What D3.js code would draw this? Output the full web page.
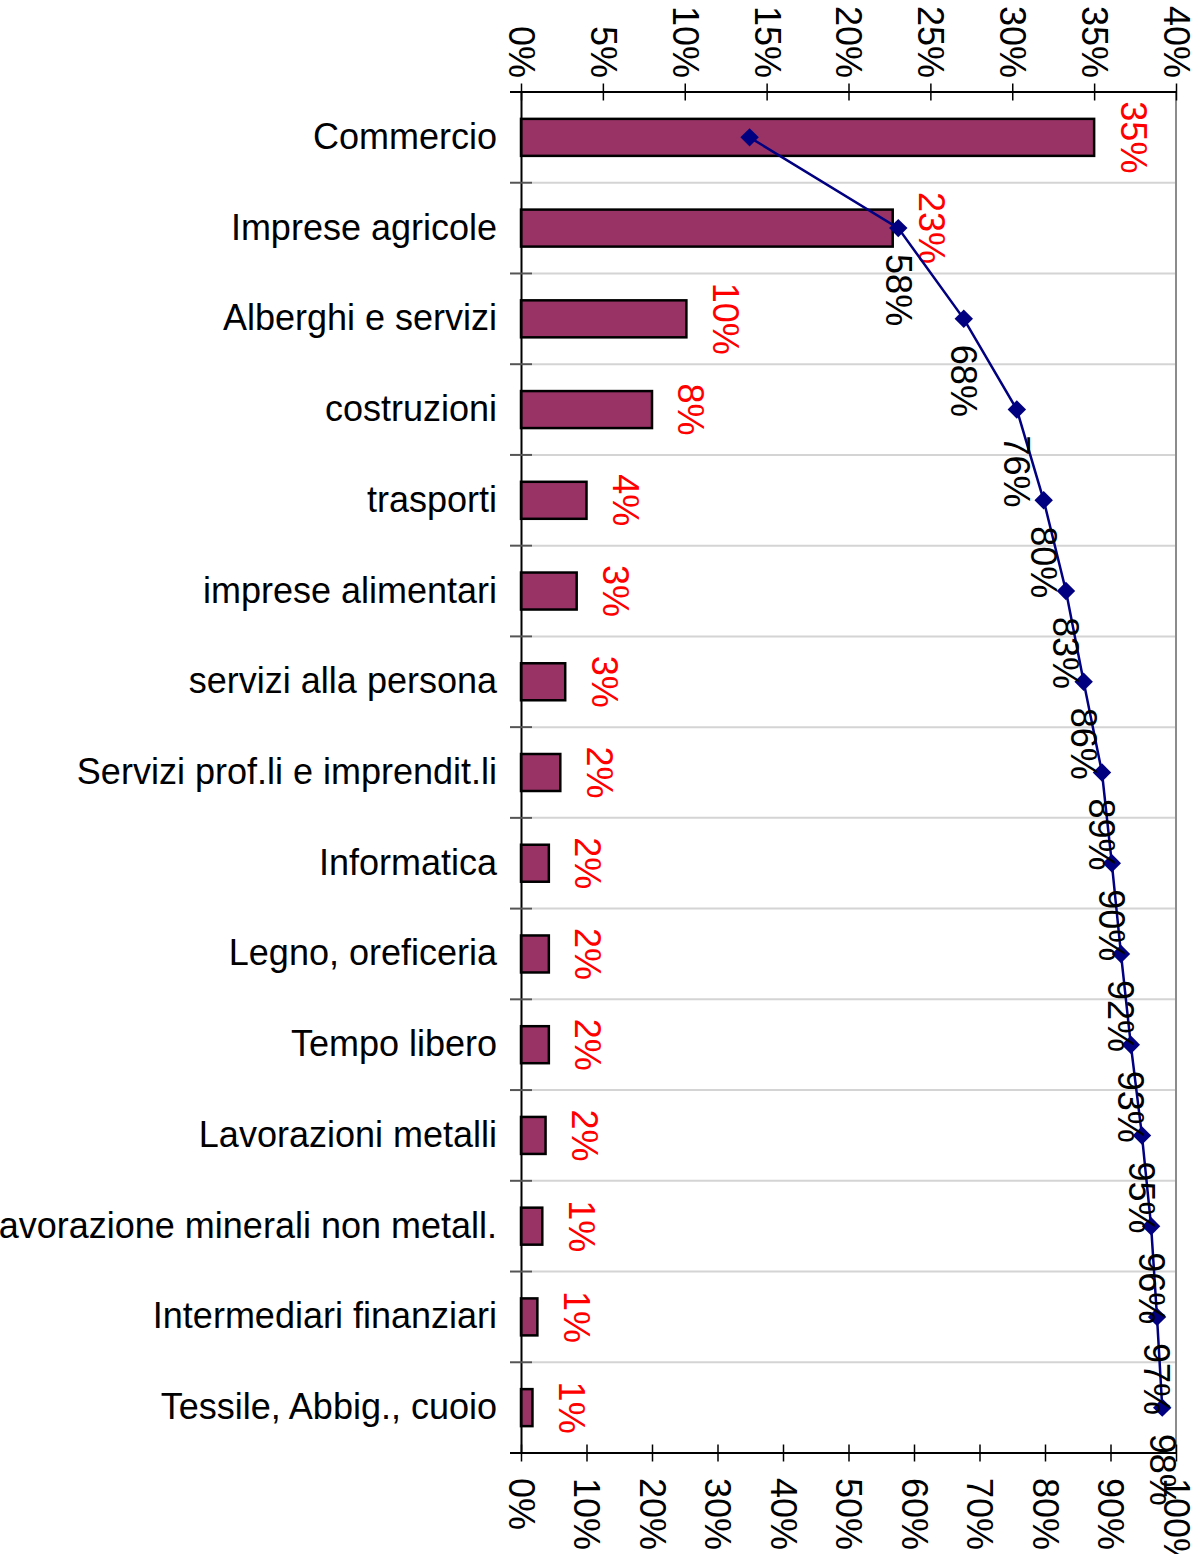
<!DOCTYPE html>
<html lang="it">
<head>
  <meta charset="utf-8">
  <title>Settori - Pareto</title>
  <style>
    html, body { margin: 0; padding: 0; background: #fff; }
    svg { display: block; font-family: "Liberation Sans", Arial, sans-serif; }
  </style>
</head>
<body>
  <script src="https://cdnjs.cloudflare.com/ajax/libs/d3/7.8.5/d3.min.js"></script>
  <script type="text/javascript">
  // data
  const categories = ["Commercio", "Imprese agricole", "Alberghi e servizi", "costruzioni",
    "trasporti", "imprese alimentari", "servizi alla persona", "Servizi prof.li e imprendit.li",
    "Informatica", "Legno, oreficeria", "Tempo libero", "Lavorazioni metalli",
    "Lavorazione minerali non metall.", "Intermediari finanziari", "Tessile, Abbig., cuoio"];
  const shares = [35.0, 22.7, 10.1, 8.0, 4.0, 3.4, 2.7, 2.4, 1.7, 1.7, 1.7, 1.5, 1.3, 1.0, 0.7];
  const cumulative = [34.9, 57.6, 67.6, 75.7, 79.8, 83.2, 85.9, 88.7, 90.2, 91.6, 93.1, 94.8, 96.2, 97.1, 97.9];
  const topTicks = [0, 5, 10, 15, 20, 25, 30, 35, 40];
  const bottomTicks = [0, 10, 20, 30, 40, 50, 60, 70, 80, 90, 100];

  const W = 1192, H = 1554;
  const plot = { left: 521, right: 1176, top: 92, bottom: 1453 };
  const fontSize = 36;

  const svg = d3.select("body")
    .append("svg")
    .attr("width", W)
    .attr("height", H);

  const x = d3.scaleLinear().domain([0, 40]).range([plot.left, plot.right]);
  const x2 = d3.scaleLinear().domain([0, 100]).range([plot.left, plot.right]);
  const y = d3.scaleBand().domain(categories).range([plot.top, plot.bottom]).padding(0);
  const barH = 37;
  const mid = (c) => y(c) + y.bandwidth() / 2;

  // gridlines at the category boundaries
  const bounds = categories.slice(1).map(c => y(c));
  svg.append("g")
    .selectAll("line")
    .data(bounds)
    .enter()
    .append("line")
    .attr("x1", plot.left + 11)
    .attr("x2", plot.right)
    .attr("y1", d => d)
    .attr("y2", d => d)
    .attr("stroke", "#d4d4d4")
    .attr("stroke-width", 2);

  // right border of the plot
  svg.append("line")
    .attr("x1", plot.right).attr("x2", plot.right)
    .attr("y1", plot.top).attr("y2", plot.bottom)
    .attr("stroke", "#8c8c8c")
    .attr("stroke-width", 2);

  // bars
  svg.append("g")
    .selectAll("rect")
    .data(categories)
    .enter()
    .append("rect")
    .attr("x", x(0))
    .attr("y", c => mid(c) - barH / 2)
    .attr("width", (c, i) => x(shares[i]) - x(0))
    .attr("height", barH)
    .attr("fill", "#993366")
    .attr("stroke", "#000")
    .attr("stroke-width", 2.5);

  // top axis (0-40%)
  const topAxis = svg.append("g")
    .attr("transform", `translate(0, ${plot.top + 8.5})`)
    .call(d3.axisTop(x).tickValues(topTicks).tickSize(17).tickFormat(d => d + "%"));
  topAxis.select(".domain").remove();
  topAxis.selectAll("line").attr("stroke", "#000").attr("stroke-width", 1.5);
  topAxis.selectAll("text")
    .attr("x", 0).attr("y", 0).attr("dy", "0.35em")
    .attr("transform", "translate(0, -22.5) rotate(90)")
    .attr("text-anchor", "end")
    .attr("font-size", fontSize)
    .attr("font-family", "Liberation Sans, Arial, sans-serif")
    .attr("fill", "#000");
  svg.append("line")
    .attr("x1", plot.left - 11).attr("x2", plot.right)
    .attr("y1", plot.top).attr("y2", plot.top)
    .attr("stroke", "#000").attr("stroke-width", 2);

  // bottom axis (0-100%)
  const bottomAxis = svg.append("g")
    .attr("transform", `translate(0, ${plot.bottom - 8.5})`)
    .call(d3.axisBottom(x2).tickValues(bottomTicks).tickSize(17).tickFormat(d => d + "%"));
  bottomAxis.select(".domain").remove();
  bottomAxis.selectAll("line").attr("stroke", "#000").attr("stroke-width", 1.5);
  bottomAxis.selectAll("text")
    .attr("x", 0).attr("y", 0).attr("dy", "0.35em")
    .attr("transform", "translate(0, 33.5) rotate(90)")
    .attr("text-anchor", "start")
    .attr("font-size", fontSize)
    .attr("font-family", "Liberation Sans, Arial, sans-serif")
    .attr("fill", "#000");
  svg.append("line")
    .attr("x1", plot.left - 11).attr("x2", plot.right)
    .attr("y1", plot.bottom).attr("y2", plot.bottom)
    .attr("stroke", "#000").attr("stroke-width", 2);

  // category axis
  const leftAxis = svg.append("g")
    .attr("transform", `translate(${plot.left}, 0)`)
    .call(d3.axisLeft(y).tickSize(0).tickPadding(24));
  leftAxis.select(".domain").attr("stroke", "#000").attr("stroke-width", 2);
  leftAxis.selectAll("text")
    .attr("font-size", fontSize)
    .attr("font-family", "Liberation Sans, Arial, sans-serif")
    .attr("fill", "#000");
  svg.append("g")
    .selectAll("line")
    .data(bounds)
    .enter()
    .append("line")
    .attr("x1", plot.left - 11)
    .attr("x2", plot.left + 11)
    .attr("y1", d => d)
    .attr("y2", d => d)
    .attr("stroke", "#555")
    .attr("stroke-width", 2);

  // share labels
  svg.append("g")
    .selectAll("text")
    .data(categories)
    .enter()
    .append("text")
    .attr("transform", (c, i) => `translate(${x(shares[i]) + 39}, ${mid(c)}) rotate(90)`)
    .attr("dy", "0.35em")
    .attr("text-anchor", "middle")
    .attr("font-size", fontSize)
    .attr("fill", "#ff0000")
    .text((c, i) => Math.round(shares[i]) + "%");

  // cumulative line
  const pts = categories.map((c, i) => [x2(cumulative[i]), mid(c)]);
  svg.append("path")
    .attr("d", d3.line()(pts))
    .attr("fill", "none")
    .attr("stroke", "#000080")
    .attr("stroke-width", 2.5);

  svg.append("g")
    .selectAll("path")
    .data(pts)
    .enter()
    .append("path")
    .attr("d", d3.symbol(d3.symbolSquare, 170))
    .attr("transform", d => `translate(${d[0]}, ${d[1]}) rotate(45)`)
    .attr("fill", "#000080");

  // cumulative labels (first point has none)
  svg.append("g")
    .selectAll("text")
    .data(pts.slice(1))
    .enter()
    .append("text")
    .attr("transform", d => `translate(${d[0]}, ${d[1] + 26}) rotate(90)`)
    .attr("dy", "0.35em")
    .attr("text-anchor", "start")
    .attr("font-size", fontSize)
    .attr("fill", "#000")
    .text((d, i) => Math.round(cumulative[i + 1]) + "%");
  </script>
</body>
</html>
